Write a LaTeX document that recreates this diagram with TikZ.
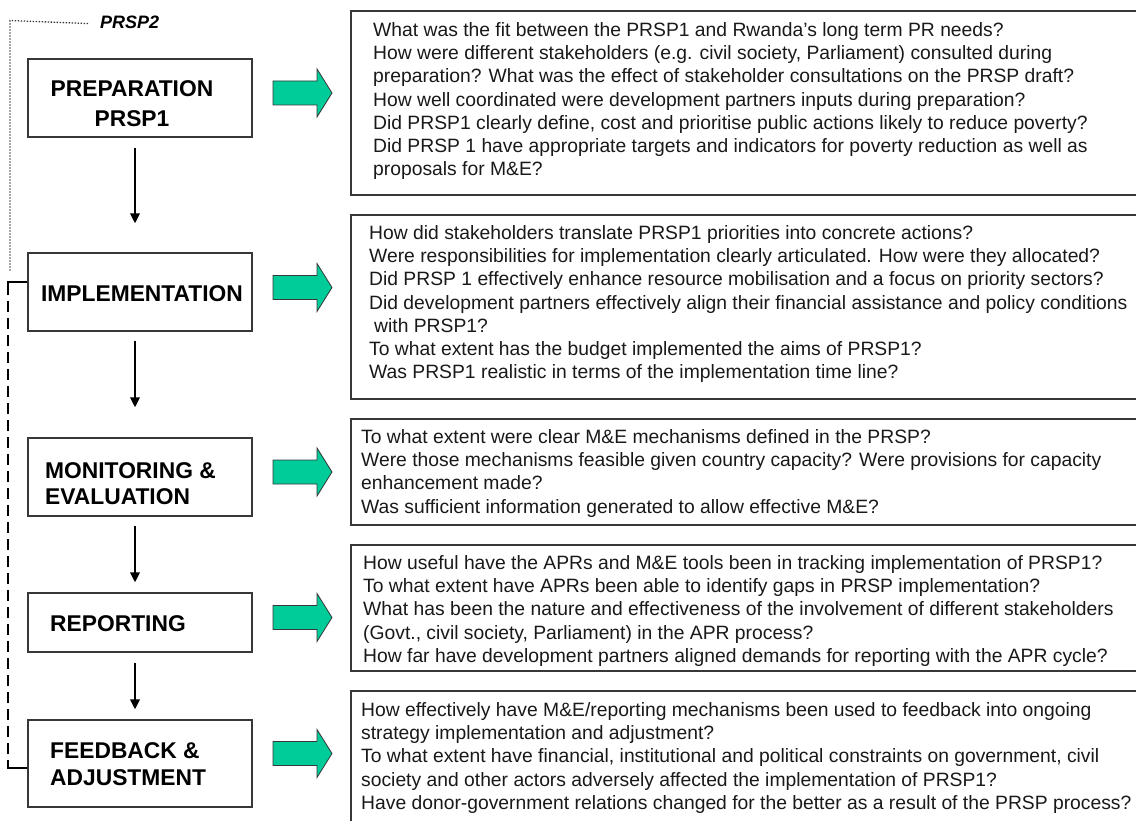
\documentclass[tikz,border=0pt]{standalone}
\usepackage{fontspec}
\setmainfont{Liberation Sans}
\usetikzlibrary{arrows.meta}
\definecolor{arrowgreen}{RGB}{0,204,153}
\definecolor{edgegray}{RGB}{55,55,55}
\begin{document}
\begin{tikzpicture}[x=1pt,y=-1pt,
  stagebox/.style={draw=edgegray, line width=1.3pt, inner sep=0pt, minimum width=224pt},
  qbox/.style={draw=edgegray, line width=1.3pt, inner sep=0pt, minimum width=799pt},
  stagetext/.style={font=\bfseries\fontsize{22.8}{27}\selectfont, inner sep=0pt, align=left},
  qtext/.style={font=\fontsize{19.3}{23.3}\selectfont, inner sep=0pt, anchor=north west, align=left, text=black!90},
  flow/.style={line width=2pt, -{Triangle[length=10pt,width=9.5pt]}},
  garrow/.style={fill=arrowgreen, draw=edgegray, line width=0.8pt},
  fbsolid/.style={line width=2pt},
  fbline/.style={line width=2pt, dash pattern=on 11pt off 6pt},
  prspline/.style={line width=1.3pt, dash pattern=on 1.3pt off 1.7pt, black!80},
]
\clip (0,0) rectangle (1136,821);
\fill[white] (0,0) rectangle (1136,821);

% stage boxes
\node[stagebox, minimum height=78pt] (prep) at (140,98) {};
\node[stagebox, minimum height=78pt] (impl) at (140,292) {};
\node[stagebox, minimum height=78pt] (mon)  at (140,477) {};
\node[stagebox, minimum height=59pt] (rep)  at (140,622.5) {};
\node[stagebox, minimum height=87pt] (feed) at (140,763.5) {};

% stage labels
\node[stagetext, anchor=north, align=center, font=\bfseries\fontsize{22.8}{30}\selectfont] (prepT) at (132,80) {PREPARATION\\PRSP1};
\node[stagetext, anchor=north] (implT) at (142,285) {IMPLEMENTATION};
\node[stagetext, anchor=north west, font=\bfseries\fontsize{22.8}{26}\selectfont] (monT) at (45,462) {MONITORING \&\\EVALUATION};
\node[stagetext, anchor=north west] (repT) at (50,615) {REPORTING};
\node[stagetext, anchor=north west] (feedT) at (50,742) {FEEDBACK \&\\ADJUSTMENT};

\node[inner sep=0pt, anchor=north west, font=\bfseries\itshape\fontsize{18}{20}\selectfont] (prsp2) at (100,15.5) {PRSP2};

% flow arrows
\draw[flow] ([xshift=-5pt,yshift=-10pt]prep.south) -- ([xshift=-5pt,yshift=29pt]impl.north);
\draw[flow] ([xshift=-5pt,yshift=-9pt]impl.south) -- ([xshift=-5pt,yshift=30pt]mon.north);
\draw[flow] ([xshift=-5pt,yshift=-9pt]mon.south) -- ([xshift=-5pt,yshift=10pt]rep.north);
\draw[flow] ([xshift=-5pt,yshift=-10pt]rep.south) -- ([xshift=-5pt,yshift=10pt]feed.north);

% PRSP2 dotted line
\draw[prspline] ([xshift=-12pt,yshift=-1.5pt]prsp2.west) -- (10,20.5) -- (10,271);

% feedback loop
\draw[fbsolid] ([yshift=10pt]impl.west) -- ++(-19,0) coordinate (fbtop) -- ++(0,13) coordinate (fbtop2);
\draw[fbline] ([yshift=-6pt]fbtop2) -- ([yshift=-4.5pt]feed.west -| fbtop);
\draw[fbsolid] ([yshift=-4.5pt]feed.west -| fbtop) ++(0,-8) -- ++(0,8) -- ([yshift=-4.5pt]feed.west);

% green arrows
\foreach \cy in {93,287.5,472,617.5,753.5}{
  \draw[garrow] (273,{\cy-12}) -- (317,{\cy-12}) -- (317,{\cy-24}) -- (332,\cy)
     -- (317,{\cy+24}) -- (317,{\cy+12}) -- (273,{\cy+12}) -- cycle;
}

% question boxes
\node[qbox, minimum height=184pt] (q1) at (750.5,103) {};
\node[qbox, minimum height=184pt] (q2) at (750.5,307) {};
\node[qbox, minimum height=106pt] (q3) at (750.5,472) {};
\node[qbox, minimum height=126pt] (q4) at (750.5,608) {};
\node[qbox, minimum height=149pt] (q5) at (750.5,765.5) {};

\node[qtext] (t1) at (373,22) {What was the fit between the PRSP1 and Rwanda’s long term PR needs?\\
How were different stakeholders (e.g. civil society, Parliament) consulted during\\
preparation? What was the effect of stakeholder consultations on the PRSP draft?\\
How well coordinated were development partners inputs during preparation?\\
Did PRSP1 clearly define, cost and prioritise public actions likely to reduce poverty?\\
Did PRSP 1 have appropriate targets and indicators for poverty reduction as well as\\
proposals for M\&E?};

\node[qtext] (t2) at (369,225) {How did stakeholders translate PRSP1 priorities into concrete actions?\\
Were responsibilities for implementation clearly articulated. How were they allocated?\\
Did PRSP 1 effectively enhance resource mobilisation and a focus on priority sectors?\\
Did development partners effectively align their financial assistance and policy conditions\\
\hspace{5pt}with PRSP1?\\
To what extent has the budget implemented the aims of PRSP1?\\
Was PRSP1 realistic in terms of the implementation time line?};

\node[qtext] (t3) at (361,429) {To what extent were clear M\&E mechanisms defined in the PRSP?\\
Were those mechanisms feasible given country capacity? Were provisions for capacity\\
enhancement made?\\
Was sufficient information generated to allow effective M\&E?};

\node[qtext] (t4) at (363,555) {How useful have the APRs and M\&E tools been in tracking implementation of PRSP1?\\
To what extent have APRs been able to identify gaps in PRSP implementation?\\
What has been the nature and effectiveness of the involvement of different stakeholders\\
(Govt., civil society, Parliament) in the APR process?\\
How far have development partners aligned demands for reporting with the APR cycle?};

\node[qtext] (t5) at (361,702) {How effectively have M\&E/reporting mechanisms been used to feedback into ongoing\\
strategy implementation and adjustment?\\
To what extent have financial, institutional and political constraints on government, civil\\
society and other actors adversely affected the implementation of PRSP1?\\
Have donor-government relations changed for the better as a result of the PRSP process?};
\end{tikzpicture}
\end{document}
